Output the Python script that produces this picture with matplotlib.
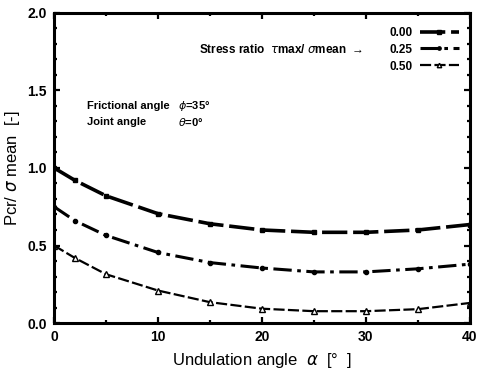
import matplotlib
matplotlib.use("Agg")
import matplotlib.pyplot as plt
from matplotlib.ticker import MultipleLocator, FormatStrFormatter

plt.rcParams['font.family'] = ['Liberation Sans', 'DejaVu Sans']

alpha = [0, 2, 5, 10, 15, 20, 25, 30, 35, 40]
ratio_000 = [1.00, 0.92, 0.82, 0.705, 0.64, 0.60, 0.585, 0.585, 0.60, 0.635]
ratio_025 = [0.75, 0.66, 0.565, 0.455, 0.39, 0.355, 0.33, 0.33, 0.35, 0.38]
ratio_050 = [0.50, 0.42, 0.315, 0.21, 0.135, 0.093, 0.077, 0.077, 0.09, 0.13]
series_labels = ["0.00", "0.25", "0.50"]

fig = plt.figure(figsize=(4.78, 3.71), dpi=100)
ax = fig.add_axes([0.113, 0.129, 0.870, 0.837])

ax.plot(alpha, ratio_000, color='black', lw=2.6, ls=(0, (7, 1.6)),
        marker='s', ms=3.2, mfc='black', label=series_labels[0])
ax.plot(alpha, ratio_025, color='black', lw=2.2, ls=(0, (6, 1.8, 1.2, 1.8)),
        marker='o', ms=3.0, mfc='black', label=series_labels[1])
ax.plot(alpha, ratio_050, color='black', lw=1.6, ls=(0, (5, 1.5)),
        marker='^', ms=4.0, mfc='white', mew=1.0, label=series_labels[2])

ax.set_xlim(0, 40)
ax.set_ylim(0, 2.0)
ax.xaxis.set_major_locator(MultipleLocator(10))
ax.xaxis.set_minor_locator(MultipleLocator(5))
ax.yaxis.set_major_locator(MultipleLocator(0.5))
ax.yaxis.set_minor_locator(MultipleLocator(0.1))
ax.yaxis.set_major_formatter(FormatStrFormatter('%.1f'))
ax.tick_params(which='both', direction='in', top=True, right=True, width=1.6)
ax.tick_params(which='major', length=4, labelsize=10, pad=5)
ax.tick_params(which='minor', length=2.5)
for lab in ax.get_xticklabels() + ax.get_yticklabels():
    lab.set_fontweight('bold')
for sp in ax.spines.values():
    sp.set_linewidth(2.2)

ax.set_xlabel('Undulation angle  $\\alpha$  [°  ]', fontsize=12, labelpad=5)
ax.set_ylabel('Pcr/ $\\sigma$ mean  [-]', fontsize=12, labelpad=4)

ax.text(3.2, 1.40, 'Frictional angle', fontsize=8, fontweight='bold', va='center')
ax.text(11.9, 1.40, '$\\phi$=35°', fontsize=8, fontweight='bold', va='center')
ax.text(3.2, 1.295, 'Joint angle', fontsize=8, fontweight='bold', va='center')
ax.text(11.9, 1.295, '$\\theta$=0°', fontsize=8, fontweight='bold', va='center')

ax.text(13.9, 1.765, 'Stress ratio  $\\tau$max/ $\\sigma$mean  →', fontsize=8.5,
        fontweight='bold', va='center')

leg = ax.legend(loc='upper right', bbox_to_anchor=(0.985, 0.97), frameon=False,
                borderaxespad=0, markerfirst=False, handlelength=3.3,
                handletextpad=0.6, labelspacing=0.42, fontsize=8.5, markerscale=0.8)
for t in leg.get_texts():
    t.set_fontweight('bold')

fig.savefig('out.png', dpi=100)
